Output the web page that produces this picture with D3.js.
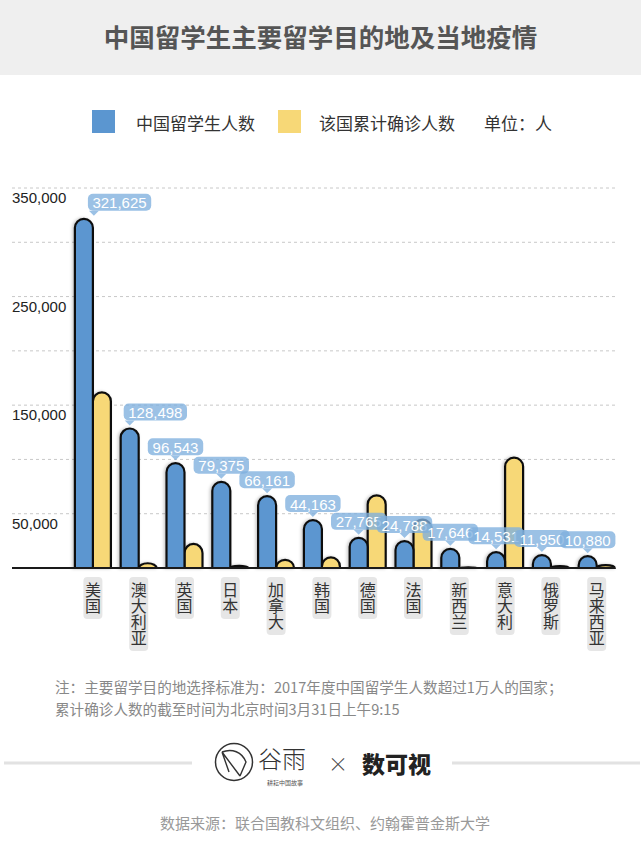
<!DOCTYPE html>
<html>
<head>
<meta charset="utf-8">
<script src="https://cdn.jsdelivr.net/npm/d3@7"></script>
<style>
  html, body { margin: 0; padding: 0; background: #fff; }
  svg { display: block; font-family: "Noto Sans CJK SC", "Noto Sans", sans-serif; }
  .vlabel { writing-mode: vertical-rl; text-orientation: upright; }
</style>
</head>
<body>
<div id="chart"></div>
<script>
// 数据
const countries = ["美国", "澳大利亚", "英国", "日本", "加拿大", "韩国", "德国", "法国", "新西兰", "意大利", "俄罗斯", "马来西亚"];
const students = [321625, 128498, 96543, 79375, 66161, 44163, 27765, 24788, 17646, 14531, 11950, 10880];
const confirmed = [161807, 4359, 22141, 1866, 7474, 9786, 66885, 44550, 647, 101739, 1836, 2626];
const gridTicks = [50000, 100000, 150000, 200000, 250000, 300000, 350000];
const labelTicks = [50000, 150000, 250000, 350000];
const legendItems = ["中国留学生人数", "该国累计确诊人数"];
const noteLines = [
    "注：主要留学目的地选择标准为：2017年度中国留学生人数超过1万人的国家；",
    "累计确诊人数的截至时间为北京时间3月31日上午9:15"
];

const blue = "#5b96d0";
const yellow = "#f7d877";

const W = 641, H = 844;
const base = 568;

const svg = d3.select("#chart")
    .append("svg")
    .attr("width", W)
    .attr("height", H);

// 阴影
const defs = svg.append("defs");
defs.append("filter")
    .attr("id", "shadow")
    .attr("x", "-50%").attr("y", "-10%")
    .attr("width", "200%").attr("height", "120%")
    .append("feDropShadow")
    .attr("dx", -1.5).attr("dy", 0)
    .attr("stdDeviation", 1.8)
    .attr("flood-color", "#000")
    .attr("flood-opacity", 0.22);

svg.append("rect").attr("width", W).attr("height", H).attr("fill", "#fff");

// 标题
svg.append("rect").attr("width", W).attr("height", 75).attr("fill", "#efefef");
svg.append("text")
    .attr("x", W / 2).attr("y", 35)
    .attr("text-anchor", "middle")
    .attr("dominant-baseline", "central")
    .attr("font-size", 25.5).attr("font-weight", 700)
    .attr("fill", "#555")
    .text("中国留学生主要留学目的地及当地疫情");

// 图例
const legend = svg.append("g").attr("font-size", 17).attr("fill", "#333");
legend.append("rect").attr("x", 92).attr("y", 110).attr("width", 23).attr("height", 23).attr("fill", blue);
legend.append("text").attr("x", 136).attr("y", 122).attr("dominant-baseline", "central").text(legendItems[0]);
legend.append("rect").attr("x", 278).attr("y", 110).attr("width", 23).attr("height", 23).attr("fill", yellow);
legend.append("text").attr("x", 319).attr("y", 122).attr("dominant-baseline", "central").text(legendItems[1]);
legend.append("text").attr("x", 484).attr("y", 122).attr("dominant-baseline", "central").text("单位：人");

// 比例尺
const y = d3.scaleLinear()
    .domain([0, 350000])
    .range([base, base - 380]);

const x = d3.scaleBand()
    .domain(countries)
    .range([70, 70 + 12 * 45.8])
    .padding(0);

// 网格线
svg.append("g")
    .selectAll("line")
    .data(gridTicks)
    .join("line")
    .attr("x1", 12).attr("x2", 615)
    .attr("y1", d => y(d)).attr("y2", d => y(d))
    .attr("stroke", "#c8c8c8")
    .attr("stroke-dasharray", "3,3");

// y 轴标签
svg.append("g")
    .selectAll("text")
    .data(labelTicks)
    .join("text")
    .attr("x", 12)
    .attr("y", d => y(d) + 15)
    .attr("font-family", "Liberation Sans, Arial, sans-serif")
    .attr("font-size", 15)
    .attr("fill", "#222")
    .text(d => d3.format(",")(d));

// 圆头柱子
function barPath(x0, w, v) {
    const top = y(v);
    const h = base - top;
    const r = w / 2;
    const ry = Math.min(r, h);
    return `M${x0},${base} V${top + ry} A${r},${ry} 0 0 1 ${x0 + w},${top + ry} V${base} Z`;
}

const bw = 18;
const bars = svg.append("g")
    .attr("stroke", "#111")
    .attr("stroke-width", 2.2)
    .attr("filter", "url(#shadow)");

bars.selectAll(".yellow")
    .data(countries)
    .join("path")
    .attr("class", "yellow")
    .attr("fill", yellow)
    .attr("d", (d, i) => barPath(x(d) + x.bandwidth() / 2, bw, confirmed[i]));

bars.selectAll(".blue")
    .data(countries)
    .join("path")
    .attr("class", "blue")
    .attr("fill", blue)
    .attr("d", (d, i) => barPath(x(d) + x.bandwidth() / 2 - bw, bw, students[i]));

// 底线
svg.append("line")
    .attr("x1", 12).attr("x2", 615)
    .attr("y1", base).attr("y2", base)
    .attr("stroke", "#1a1a1a")
    .attr("stroke-width", 2.2);

// 数值气泡
const fmt = d3.format(",");
const bubbles = svg.append("g")
    .attr("font-family", "Liberation Sans, Arial, sans-serif")
    .attr("font-size", 15);

countries.forEach((c, i) => {
    const v = students[i];
    const label = fmt(v);
    const bh = 17;
    const bwid = label.length * 7.9 + 8;
    const cx = x(c) + x.bandwidth() / 2 - bw / 2;
    const tipY = y(v) - 3;
    const tipX = i === 0 ? cx + 10 : cx;
    // 前两个气泡向右偏移，避开坐标轴和相邻柱子
    const left = i < 2 ? tipX - 6 : cx - bwid / 2;
    const bottom = tipY - 5;
    const g = bubbles.append("g").attr("opacity", 0.78);
    g.append("rect")
        .attr("x", left).attr("y", bottom - bh)
        .attr("width", bwid).attr("height", bh)
        .attr("rx", 5)
        .attr("fill", "#7fb0de");
    g.append("path")
        .attr("d", `M${tipX - 5},${bottom} L${tipX},${tipY} L${tipX + 5},${bottom} Z`)
        .attr("fill", "#7fb0de");
    bubbles.append("text")
        .attr("x", left + bwid / 2)
        .attr("y", bottom - bh / 2 + 0.5)
        .attr("text-anchor", "middle")
        .attr("dominant-baseline", "central")
        .attr("fill", "#fff")
        .text(label);
});

// x 轴标签（竖排）
const xl = svg.append("g")
    .selectAll("g")
    .data(countries)
    .join("g")
    .attr("transform", d => `translate(${x(d) + x.bandwidth() / 2},577)`);

xl.append("rect")
    .attr("x", -9.5).attr("y", 0)
    .attr("width", 19)
    .attr("height", d => d.length * 16 + 10)
    .attr("rx", 4)
    .attr("fill", "#e6e6e6");

xl.append("text")
    .attr("class", "vlabel")
    .attr("x", 0)
    .attr("y", 5)
    .attr("font-size", 16)
    .attr("fill", "#333")
    .text(d => d);

// 注释
svg.append("g")
    .attr("font-size", 14.6).attr("fill", "#888")
    .selectAll("text")
    .data(noteLines)
    .join("text")
    .attr("x", 55)
    .attr("y", (d, i) => 693 + i * 21.5)
    .text(d => d);

// logo 行
svg.append("line").attr("x1", 4).attr("x2", 192).attr("y1", 763).attr("y2", 763)
    .attr("stroke", "#e2e2e2").attr("stroke-width", 3);
svg.append("line").attr("x1", 452).attr("x2", 640).attr("y1", 763).attr("y2", 763)
    .attr("stroke", "#e2e2e2").attr("stroke-width", 3);

const logo = svg.append("g");
logo.append("circle").attr("cx", 234).attr("cy", 762).attr("r", 18.5)
    .attr("fill", "none").attr("stroke", "#333").attr("stroke-width", 1.5);
logo.append("path")
    .attr("d", "M222,752 L240,776 M222,752 C232,748 242,752 246,762 L240,776 M222,752 L229,772")
    .attr("fill", "none").attr("stroke", "#333").attr("stroke-width", 1.4);
logo.append("text").attr("x", 258).attr("y", 768)
    .attr("font-size", 24).attr("fill", "#333")
    .attr("font-family", "Noto Sans CJK SC").attr("font-weight", 300)
    .text("谷雨");
logo.append("text").attr("x", 285).attr("y", 785)
    .attr("text-anchor", "middle")
    .attr("font-size", 6).attr("fill", "#555")
    .text("耕耘中国故事");
logo.append("text").attr("x", 338).attr("y", 763)
    .attr("text-anchor", "middle").attr("dominant-baseline", "central")
    .attr("font-size", 20).attr("fill", "#444").attr("font-weight", 300)
    .text("×");
logo.append("text").attr("x", 362).attr("y", 773)
    .attr("font-size", 23).attr("font-weight", 900).attr("fill", "#222")
    .text("数可视");

// 数据来源
svg.append("text")
    .attr("x", 325).attr("y", 829)
    .attr("text-anchor", "middle")
    .attr("font-size", 15).attr("fill", "#999")
    .text("数据来源：联合国教科文组织、约翰霍普金斯大学");
</script>
</body>
</html>
